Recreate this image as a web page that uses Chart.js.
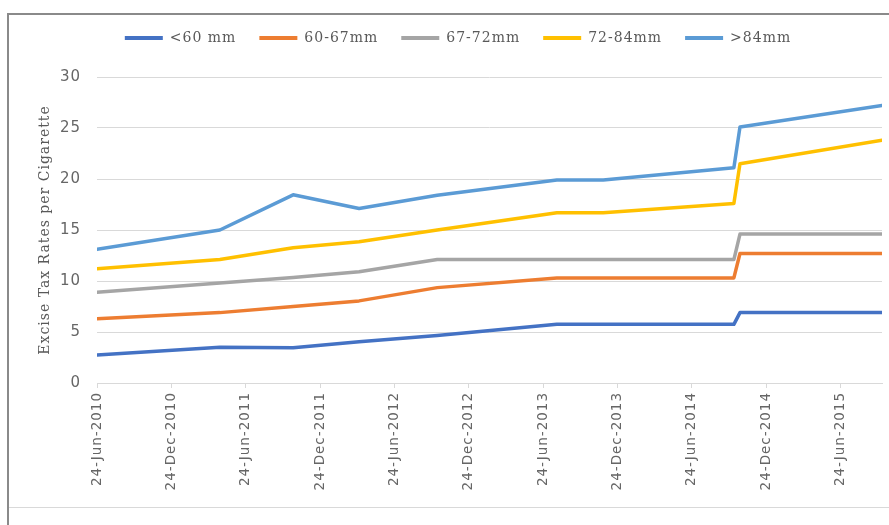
<!DOCTYPE html>
<html>
<head>
<meta charset="utf-8">
<script src="https://cdn.jsdelivr.net/npm/chart.js@4"></script>
<style>
  html, body { margin: 0; padding: 0; background: #fff; }
  #wrap { position: relative; width: 889px; height: 525px; overflow: hidden; }
  #frame { position: absolute; left: 7px; top: 13px; width: 900px; height: 600px;
           border-left: 2px solid #8a8a8a; border-top: 2px solid #8a8a8a; }
  #foot { position: absolute; left: 9px; top: 507px; width: 880px; height: 1px; background: #d9d9d9; }
  canvas { position: absolute; left: 0; top: 0; }
</style>
</head>
<body>
<div id="wrap">
  <div id="frame"></div>
  <div id="foot"></div>
  <canvas id="chart" width="889" height="525"></canvas>
</div>
<script>
// dates where the rates change
const dates = ['2010-06-24', '2011-04-22', '2011-10-19', '2012-03-29', '2012-10-07',
               '2013-07-28', '2013-11-19', '2014-10-06', '2014-10-21', '2015-10-05'];

const lt60     = [2.75, 3.5, 3.45, 4.05, 4.65, 5.75, 5.75, 5.75, 6.9, 6.9];
const mm60to67 = [6.3, 6.9, 7.5, 8.05, 9.35, 10.3, 10.3, 10.3, 12.7, 12.7];
const mm67to72 = [8.9, 9.8, 10.35, 10.9, 12.1, 12.1, 12.1, 12.1, 14.6, 14.6];
const mm72to84 = [11.2, 12.1, 13.25, 13.85, 15.0, 16.7, 16.7, 17.6, 21.5, 23.8];
const gt84     = [13.1, 15.0, 18.45, 17.1, 18.4, 19.9, 19.9, 21.1, 25.1, 27.2];

const seriesNames = ['<60 mm', '60-67mm', '67-72mm', '72-84mm', '>84mm'];
const seriesColors = ['#4472C4', '#ED7D31', '#A5A5A5', '#FFC000', '#5B9BD5'];

const tickDates = ['2010-06-24', '2010-12-24', '2011-06-24', '2011-12-24', '2012-06-24', '2012-12-24',
                   '2013-06-24', '2013-12-24', '2014-06-24', '2014-12-24', '2015-06-24'];
const tickLabels = ['24-Jun-2010', '24-Dec-2010', '24-Jun-2011', '24-Dec-2011', '24-Jun-2012', '24-Dec-2012',
                    '24-Jun-2013', '24-Dec-2013', '24-Jun-2014', '24-Dec-2014', '24-Jun-2015'];

// days since the first date, so a linear scale can act as a date axis
const dayOf = d => (Date.parse(d) - Date.parse(dates[0])) / 864e5;
const toPoints = vals => vals.map((v, i) => ({ x: dayOf(dates[i]), y: v }));

const allSeries = [lt60, mm60to67, mm67to72, mm72to84, gt84];

// excel-ish spaced text + taller legend box so the plot starts lower
const tweaks = {
  id: 'tweaks',
  beforeUpdate(chart) { chart.ctx.letterSpacing = '1px'; },
  beforeLayout(chart) {
    chart.ctx.letterSpacing = '1px';
    const lg = chart.legend;
    if (lg && !lg._tallFit) {
      const fit = lg.fit;
      lg.fit = function () { fit.call(this); this.height = 69; };
      lg._tallFit = true;
    }
  },
  beforeDraw(chart) { chart.ctx.letterSpacing = '1px'; }
};

new Chart(document.getElementById('chart'), {
  type: 'line',
  data: {
    datasets: allSeries.map((vals, i) => ({
      label: seriesNames[i],
      data: toPoints(vals),
      borderColor: seriesColors[i],
      backgroundColor: seriesColors[i],
      borderWidth: 3.5,
      borderJoinStyle: 'round',
      borderCapStyle: 'round',
      pointRadius: 0,
      tension: 0,
      fill: false
    }))
  },
  plugins: [tweaks],
  options: {
    responsive: false,
    animation: false,
    layout: { padding: { left: 34, top: 8, right: 7, bottom: 0 } },
    plugins: {
      tooltip: { enabled: false },
      legend: {
        position: 'top',
        labels: {
          boxWidth: 38,
          boxHeight: 4,
          padding: 23,
          color: '#595959',
          font: { family: 'DejaVu Serif', size: 14 },
          generateLabels: chart => Chart.defaults.plugins.legend.labels.generateLabels(chart)
            .map(l => ({ ...l, lineWidth: 0 }))
        }
      }
    },
    scales: {
      x: {
        type: 'linear',
        min: dayOf(dates[0]),
        max: dayOf(dates[dates.length - 1]),
        afterBuildTicks: scale => { scale.ticks = tickDates.map(d => ({ value: dayOf(d) })); },
        afterFit: scale => { scale.height = 142; },
        ticks: {
          autoSkip: false,
          minRotation: 90,
          maxRotation: 90,
          padding: 4,
          color: '#666',
          font: { family: 'DejaVu Sans', size: 13.5 },
          callback: (v, i) => tickLabels[i]
        },
        grid: { drawOnChartArea: false, drawTicks: true, tickLength: 5, color: '#d9d9d9' },
        border: { display: true, color: '#d9d9d9', width: 1 }
      },
      y: {
        min: 0,
        max: 30,
        afterFit: scale => { scale.width = 63; },
        ticks: {
          stepSize: 5,
          padding: 16,
          color: '#666',
          font: { family: 'DejaVu Sans', size: 15 }
        },
        grid: { color: '#d9d9d9', drawTicks: false },
        border: { display: false },
        title: {
          display: true,
          text: 'Excise Tax Rates per Cigarette',
          color: '#595959',
          font: { family: 'DejaVu Serif', size: 14 },
          padding: { top: 3, bottom: 0 }
        }
      }
    }
  }
});
</script>
</body>
</html>
